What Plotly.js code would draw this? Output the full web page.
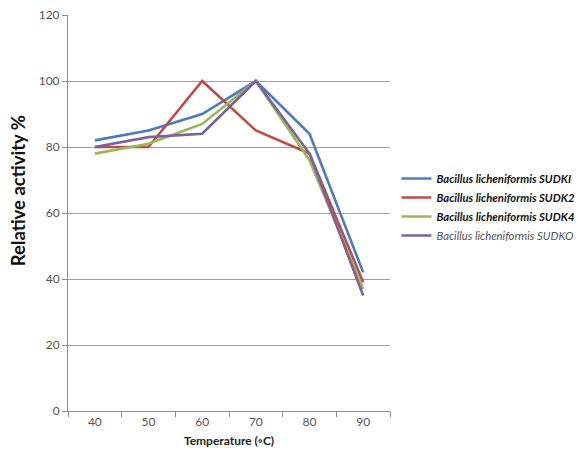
<!DOCTYPE html>
<html>
<head>
<meta charset="utf-8">
<script src="https://cdn.plot.ly/plotly-3.0.1.min.js"></script>
<style>html,body{margin:0;padding:0;background:#fff}#chart{width:587px;height:468px}</style>
</head>
<body>
<div id="chart"></div>
<script>
const temperatures = ['40', '50', '60', '70', '80', '90'];
const sudk1 = [82, 85, 90, 100, 84, 42];
const sudk2 = [80, 80, 100, 85, 78, 39];
const sudk4 = [78, 81, 87, 100, 76, 37];
const sudko = [80, 83, 84, 100, 78, 35];
const seriesNames = [
  '<b><i>Bacillus licheniformis SUDKI</i></b>',
  '<b><i>Bacillus licheniformis SUDK2</i></b>',
  '<b><i>Bacillus licheniformis SUDK4</i></b>',
  '<span style="color:#555"><i>Bacillus licheniformis SUDKO</i></span>'
];
const colors = ['#4A7EBB', '#BE4B48', '#98B954', '#7D60A0'];
const values = [sudk1, sudk2, sudk4, sudko];

const traces = values.map((v, i) => ({
  type: 'scatter', mode: 'lines', x: temperatures, y: v, name: seriesNames[i],
  line: {color: colors[i], width: 2.6}
}));

const layout = {
  width: 587, height: 468,
  margin: {l: 68, r: 197, t: 15, b: 57, autoexpand: false},
  paper_bgcolor: '#fff', plot_bgcolor: '#fff',
  font: {family: 'Lato, "Open Sans", sans-serif', color: '#555'},
  showlegend: true,
  legend: {x: 1.02, y: 0.515, xanchor: 'left', yanchor: 'middle', font: {size: 11.3, color: '#111'},
           tracegroupgap: 0, itemwidth: 30, bgcolor: 'rgba(0,0,0,0)'},
  xaxis: {
    type: 'category', range: [-0.5, 5.5], showgrid: false, zeroline: false,
    showline: true, linecolor: '#8c8c8c', linewidth: 1,
    ticks: 'outside', tickson: 'boundaries', ticklen: 5, tickcolor: '#8c8c8c',
    tickfont: {size: 12, color: '#555'},
    title: {text: '<b>Temperature (◦C)</b>', font: {size: 12, color: '#222'}, standoff: 8}
  },
  yaxis: {
    range: [0, 120], dtick: 20, showgrid: true, gridcolor: '#a0a0a0', gridwidth: 1,
    zeroline: false, showline: true, linecolor: '#8c8c8c', linewidth: 1,
    ticks: 'outside', ticklen: 5, tickcolor: '#8c8c8c',
    tickfont: {size: 12, color: '#555'}
  },
  annotations: [{
    text: '<b>Relative activity %</b>', xref: 'paper', yref: 'paper',
    x: -0.155, y: 0.555, xanchor: 'center', yanchor: 'middle', textangle: -90,
    showarrow: false, font: {size: 18.5, color: '#111'}
  }]
};

Plotly.newPlot('chart', traces, layout, {displayModeBar: false, staticPlot: true});
</script>
</body>
</html>
